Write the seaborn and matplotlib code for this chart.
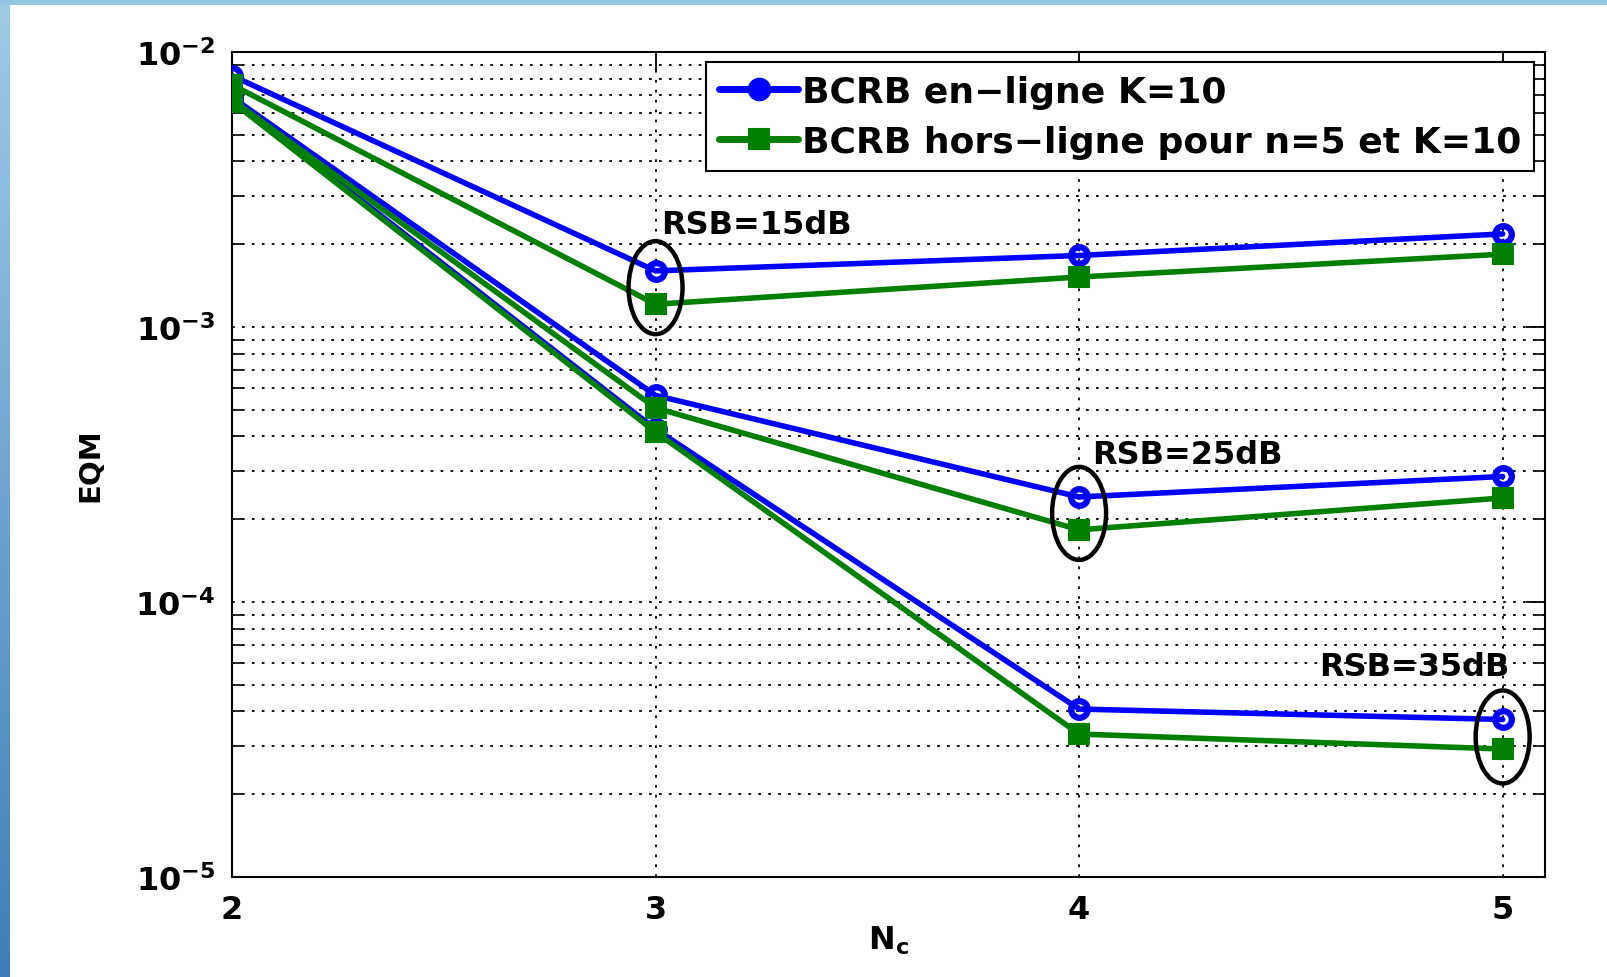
import matplotlib
matplotlib.use("Agg")
import matplotlib.pyplot as plt
import matplotlib.transforms as mtransforms
from matplotlib.patches import Ellipse
from matplotlib.lines import Line2D
from matplotlib.ticker import LogLocator, NullFormatter
import numpy as np
import seaborn as sns

# data
nc = [2, 3, 4, 5]
online_15 = [8.2e-3, 1.60e-3, 1.82e-3, 2.18e-3]
offline_15 = [7.6e-3, 1.21e-3, 1.52e-3, 1.84e-3]
online_25 = [6.85e-3, 5.64e-4, 2.41e-4, 2.86e-4]
offline_25 = [6.7e-3, 5.08e-4, 1.83e-4, 2.39e-4]
online_35 = [6.7e-3, 4.25e-4, 4.08e-5, 3.74e-5]
offline_35 = [6.6e-3, 4.15e-4, 3.31e-5, 2.92e-5]

label_online = "BCRB en\u2212ligne K=10"
label_offline = "BCRB hors\u2212ligne pour n=5 et K=10"
rsb_labels = ["RSB=15dB", "RSB=25dB", "RSB=35dB"]
rsb_text_pos = [(3.013, 2.36e-3), (4.031, 3.45e-4), (4.566, 5.81e-5)]
ellipse_pos = [(3, 1.39e-3), (4, 2.1e-4), (5, 3.23e-5)]

sns.set_style("white")
plt.rcParams["font.family"] = ["DejaVu Sans"]
plt.rcParams["font.weight"] = "bold"
plt.rcParams["mathtext.fontset"] = "dejavusans"
plt.rcParams["mathtext.default"] = "bf"
for key in ["text.color", "axes.labelcolor", "xtick.color", "ytick.color"]:
    plt.rcParams[key] = "black"

fig = plt.figure(figsize=(16.07, 9.78), dpi=100)
fig.patch.set_facecolor("white")

# blue frame on the left and top edges
bg = fig.add_axes([0, 0, 1, 1], zorder=-10)
bg.set_axis_off()
grad = np.linspace(0, 1, 256)[:, None]
left_cmap = matplotlib.colors.LinearSegmentedColormap.from_list("lb", ["#9fcbe7", "#3f7fb9"])
bg.imshow(grad, extent=[0, 10 / 1607, 0, 1], cmap=left_cmap, aspect="auto",
          transform=bg.transAxes, origin="upper")
bg.add_patch(plt.Rectangle((0, 1 - 6 / 978), 1, 6 / 978, color="#95c4e4",
                           transform=bg.transAxes, lw=0))
bg.set_xlim(0, 1)
bg.set_ylim(0, 1)

ax = fig.add_axes([232 / 1607, 100 / 978, 1313 / 1607, 825 / 978])

blue = "#0000ff"
green = "#007f00"
for vals in [online_15, online_25, online_35]:
    sns.lineplot(x=nc, y=vals, ax=ax, color=blue, lw=4, marker="o", markersize=12,
                 markerfacecolor="none", markeredgecolor=blue, markeredgewidth=4.5,
                 legend=False, zorder=3)
for vals in [offline_15, offline_25, offline_35]:
    sns.lineplot(x=nc, y=vals, ax=ax, color=green, lw=4, marker="s", markersize=15,
                 markerfacecolor=green, markeredgecolor=green, markeredgewidth=1.5,
                 legend=False, zorder=3)

ax.set_yscale("log")
ax.set_xlim(2, 5.1)
ax.set_ylim(1e-5, 1e-2)
ax.set_xticks(nc)
ax.yaxis.set_major_locator(LogLocator(base=10, numticks=10))
ax.yaxis.set_minor_locator(LogLocator(base=10, subs=np.arange(2, 10), numticks=100))
ax.yaxis.set_minor_formatter(NullFormatter())

grid_style = dict(color="black", linestyle=(0, (1.5, 4)), linewidth=1.3)
ax.grid(True, which="major", axis="both", **grid_style)
ax.grid(True, which="minor", axis="y", **grid_style)
ax.set_axisbelow(True)

ax.tick_params(axis="both", which="major", direction="in", length=14, width=1.3,
               top=True, right=True, labelsize=23, pad=12, colors="black")
ax.tick_params(axis="y", which="minor", direction="in", length=7, width=1.2,
               left=True, right=True)
for s in ax.spines.values():
    s.set_linewidth(1.5)
    s.set_color("black")
for lab in ax.get_xticklabels() + ax.get_yticklabels():
    lab.set_fontweight("bold")

ax.set_ylabel("EQM", fontsize=21, fontweight="bold")
ax.yaxis.set_label_coords(-0.097, 0.5)
ax.set_xlabel(r"N$_{c}$", fontsize=23, fontweight="bold")
ax.xaxis.set_label_coords(0.5, -0.056)

for txt, (tx, ty) in zip(rsb_labels, rsb_text_pos):
    ax.text(tx, ty, txt, fontsize=23, fontweight="bold", ha="left", va="center", zorder=5)

for (ex, ey) in ellipse_pos:
    tr = fig.dpi_scale_trans + mtransforms.ScaledTranslation(ex, ey, ax.transData)
    ax.add_patch(Ellipse((0, 0), 0.54, 0.93, transform=tr, fill=False,
                         edgecolor="black", lw=3.2, zorder=4))

handles = [
    Line2D([], [], color=blue, lw=5, marker="o", markersize=15, markerfacecolor=blue,
           markeredgecolor=blue, markeredgewidth=2),
    Line2D([], [], color=green, lw=5, marker="s", markersize=15, markerfacecolor=green,
           markeredgecolor=green, markeredgewidth=1.5),
]
leg = ax.legend(handles, [label_online, label_offline], loc="upper right",
                bbox_to_anchor=(0.9916, 0.988), borderaxespad=0,
                prop={"weight": "bold", "size": 26}, handlelength=2.2, handletextpad=0.1,
                borderpad=0.35, labelspacing=0.45, fancybox=False, framealpha=1,
                edgecolor="black")
leg.get_frame().set_linewidth(1.5)

fig.savefig("out.png", dpi=100)
